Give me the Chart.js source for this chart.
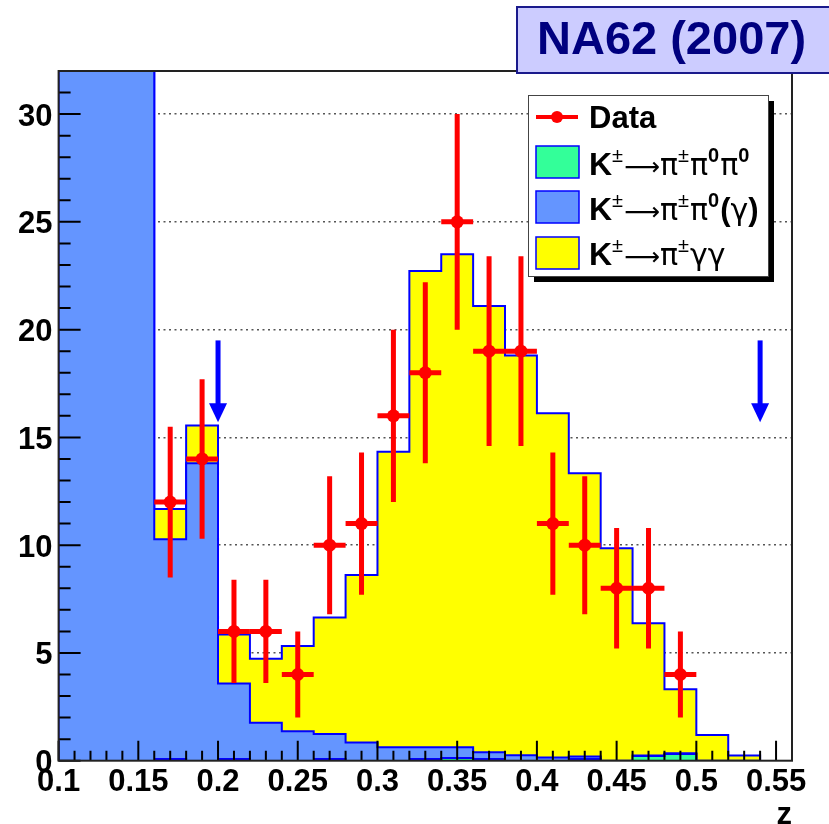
<!DOCTYPE html>
<html>
<head>
<meta charset="utf-8">
<script src="https://cdn.jsdelivr.net/npm/chart.js@4.4.1/dist/chart.umd.min.js"></script>
<style>
  body { margin: 0; background: #fff; }
  canvas { display: block; }
</style>
</head>
<body>
<canvas id="zplot" width="829" height="824"></canvas>
<script>
// histogram bins in z (low edges), width 0.02
const binLow = [0.10, 0.12, 0.14, 0.16, 0.18, 0.20, 0.22, 0.24, 0.26, 0.28, 0.30,
                0.32, 0.34, 0.36, 0.38, 0.40, 0.42, 0.44, 0.46, 0.48, 0.50, 0.52];
const binWidth = 0.02;

// MC components per bin (stacked: k3pi at the bottom, then k2pi, then kpigg)
const k3pi  = [0, 0, 0, 0.08, 0, 0.08, 0, 0, 0.08, 0, 0,
               0.08, 0.12, 0.08, 0, 0, 0.08, 0, 0.22, 0.31, 0, 0];
const k2pi  = [150, 150, 150, 10.2, 13.8, 3.5, 1.76, 1.37, 1.16, 0.85, 0.62,
               0.54, 0.5, 0.31, 0.25, 0.15, 0.12, 0, 0.02, 0.03, 0, 0];
const kpigg = [0, 0, 0, 1.4, 1.75, 2.27, 2.97, 3.95, 5.4, 7.77, 13.72,
               22.1, 22.88, 20.71, 18.55, 15.97, 13.14, 9.86, 6.14, 2.97, 1.19, 0.24];

// data points (bin centres), counts and errors
const dataZ   = [0.17, 0.19, 0.21, 0.23, 0.25, 0.27, 0.29, 0.31, 0.33, 0.35, 0.37,
                 0.39, 0.41, 0.43, 0.45, 0.47, 0.49];
const dataN   = [12, 14, 6, 6, 4, 10, 11, 16, 18, 25, 19, 19, 11, 10, 8, 8, 4];
const dataErr = [3.5, 3.7, 2.4, 2.4, 2.0, 3.2, 3.3, 4.0, 4.2, 5.0, 4.4, 4.4, 3.3, 3.2, 2.8, 2.8, 2.0];

// axis tick labels
const xTickVals = [0.1, 0.15, 0.2, 0.25, 0.3, 0.35, 0.4, 0.45, 0.5, 0.55];
const yTickVals = [0, 5, 10, 15, 20, 25, 30];

// signal region cut arrows
const arrowZ = [0.20, 0.54];
const arrowTop = 19.5;
const arrowTip = 15.7;

// cumulative layers for the stack
const layer1 = k3pi.slice();
const layer2 = layer1.map((v, i) => v + k2pi[i]);
const layer3 = layer2.map((v, i) => v + kpigg[i]);

function stepPoints(vals) {
    let n = vals.length;
    let pts = [{x: binLow[0], y: 0}];
    for (let i = 0; i < n; i++) pts.push({x: binLow[i], y: vals[i]});
    let end = binLow[n - 1] + binWidth;
    pts.push({x: end, y: vals[n - 1]});
    pts.push({x: end, y: 0});
    return pts;
}

const BOLD = '"Liberation Sans", Arial, sans-serif';

function drawRich(ctx, x, base, parts) {
    for (const p of parts) {
        ctx.font = p.f;
        ctx.fillText(p.t, x, base - (p.up || 0));
        x += ctx.measureText(p.t).width + (p.gap || 0);
    }
}

const rootStyle = {
    id: 'rootStyle',
    afterDatasetsDraw(chart) {
        const {ctx, chartArea: a, scales: {x, y}} = chart;
        ctx.save();
        // arrows
        ctx.fillStyle = '#0000ff';
        ctx.strokeStyle = '#0000ff';
        arrowZ.forEach(z => {
            let px = x.getPixelForValue(z);
            let top = y.getPixelForValue(arrowTop);
            let tip = y.getPixelForValue(arrowTip);
            ctx.lineWidth = 5;
            ctx.beginPath();
            ctx.moveTo(px, top);
            ctx.lineTo(px, tip - 14);
            ctx.stroke();
            ctx.beginPath();
            ctx.moveTo(px - 9, tip - 19);
            ctx.lineTo(px + 9, tip - 19);
            ctx.lineTo(px, tip);
            ctx.closePath();
            ctx.fill();
        });
        // data error bars
        ctx.strokeStyle = '#ff0000';
        ctx.lineWidth = 5;
        dataZ.forEach((z, i) => {
            let px = x.getPixelForValue(z);
            let py = y.getPixelForValue(dataN[i]);
            ctx.beginPath();
            ctx.moveTo(x.getPixelForValue(z - binWidth / 2), py);
            ctx.lineTo(x.getPixelForValue(z + binWidth / 2), py);
            ctx.moveTo(px, y.getPixelForValue(dataN[i] + dataErr[i]));
            ctx.lineTo(px, y.getPixelForValue(dataN[i] - dataErr[i]));
            ctx.stroke();
        });
        // inward tick marks
        ctx.strokeStyle = '#000';
        ctx.lineWidth = 2;
        ctx.beginPath();
        for (let v = 0; v <= 32; v++) {
            let py = y.getPixelForValue(v);
            ctx.moveTo(a.left, py);
            ctx.lineTo(a.left + (v % 5 === 0 ? 22 : 12), py);
        }
        for (let i = 0; i <= 46; i++) {
            let px = x.getPixelForValue(0.1 + i * 0.01);
            ctx.moveTo(px, a.bottom);
            ctx.lineTo(px, a.bottom - (i % 5 === 0 ? 20 : 10));
        }
        ctx.stroke();
        // frame
        ctx.strokeStyle = '#222';
        ctx.strokeRect(a.left, a.top, a.right - a.left, a.bottom - a.top);
        ctx.restore();
    },
    afterDraw(chart) {
        const {ctx, chartArea: a} = chart;
        ctx.save();
        // axis title
        ctx.fillStyle = '#000';
        ctx.font = 'bold 31px ' + BOLD;
        ctx.textAlign = 'right';
        ctx.textBaseline = 'alphabetic';
        ctx.fillText('z', a.right, 824);
        ctx.textAlign = 'left';

        // legend box with shadow
        ctx.fillStyle = '#000';
        ctx.fillRect(534, 101, 240, 181);
        ctx.fillStyle = '#fff';
        ctx.fillRect(528, 95, 240, 181);
        ctx.strokeStyle = '#444';
        ctx.lineWidth = 1;
        ctx.strokeRect(528.5, 95.5, 240, 181);

        // Data entry
        ctx.strokeStyle = '#ff0000';
        ctx.lineWidth = 4;
        ctx.beginPath();
        ctx.moveTo(536, 117);
        ctx.lineTo(578, 117);
        ctx.stroke();
        ctx.fillStyle = '#ff0000';
        ctx.beginPath();
        ctx.arc(557, 117, 6, 0, Math.PI * 2);
        ctx.fill();
        ctx.fillStyle = '#000';
        ctx.font = 'bold 31px ' + BOLD;
        ctx.fillText('Data', 589, 128);

        // MC swatches
        const sw = [['#33ff99', 146], ['#6495ff', 191], ['#ffff00', 237]];
        sw.forEach(s => {
            ctx.fillStyle = s[0];
            ctx.fillRect(536, s[1], 43, 32);
            ctx.strokeStyle = '#0000ff';
            ctx.lineWidth = 1.5;
            ctx.strokeRect(536, s[1], 43, 32);
        });
        ctx.fillStyle = '#000';
        const K = {t: 'K', f: 'bold 32px ' + BOLD};
        const pm = {t: '\u00b1', f: '20px ' + BOLD, up: 13, gap: 1};
        const arr = {t: '\u27f6', f: '25px "DejaVu Sans"', gap: 0};
        const pi = {t: '\u03c0', f: '30px "DejaVu Sans"'};
        const gam = {t: '\u03b3', f: '30px "DejaVu Sans"'};
        const zero = {t: '0', f: 'bold 20px ' + BOLD, up: 13, gap: 1};
        const lp = {t: '(', f: 'bold 31px ' + BOLD};
        const rp = {t: ')', f: 'bold 31px ' + BOLD};
        drawRich(ctx, 589, 175, [K, pm, arr, pi, pm, pi, zero, pi, zero]);
        drawRich(ctx, 589, 220, [K, pm, arr, pi, pm, pi, zero, lp, gam, rp]);
        drawRich(ctx, 589, 265, [K, pm, arr, pi, pm, gam, gam]);

        // experiment label
        ctx.fillStyle = '#ccccff';
        ctx.fillRect(516, 6, 330, 68);
        ctx.strokeStyle = '#1a1a8c';
        ctx.lineWidth = 2;
        ctx.strokeRect(517, 7, 330, 66);
        ctx.fillStyle = '#00007f';
        ctx.font = 'bold 47px ' + BOLD;
        ctx.fillText('NA62 (2007)', 537, 54);
        ctx.restore();
    }
};

function histSet(label, vals, color) {
    return {
        label: label,
        data: stepPoints(vals),
        stepped: 'before',
        borderColor: '#0000ff',
        borderWidth: 2,
        backgroundColor: color,
        fill: 'origin',
        pointRadius: 0
    };
}

const green = histSet('K3pi', layer1, '#33ff99');
green.segment = {
    borderColor: c => (c.p0.parsed.y <= 0 ? 'rgba(0,0,0,0)' : undefined)
};

let chart = new Chart(document.getElementById('zplot').getContext('2d'), {
    type: 'line',
    data: {
        datasets: [
            {
                label: 'Data',
                data: dataZ.map((z, i) => ({x: z, y: dataN[i]})),
                showLine: false,
                pointRadius: 6.5,
                pointBackgroundColor: '#ff0000',
                pointBorderColor: '#ff0000',
                pointBorderWidth: 0
            },
            green,
            histSet('K2pi', layer2, '#6495ff'),
            histSet('Kpigg', layer3, '#ffff00')
        ]
    },
    options: {
        responsive: false,
        animation: false,
        events: [],
        devicePixelRatio: 1,
        layout: {padding: {left: 0, right: 37, top: 71, bottom: 0}},
        plugins: {legend: {display: false}, tooltip: {enabled: false}},
        scales: {
            x: {
                type: 'linear',
                min: 0.1,
                max: 0.56,
                afterBuildTicks: s => { s.ticks = xTickVals.map(v => ({value: v})); },
                afterFit: s => { s.height = 824 - 760.7; },
                ticks: {
                    autoSkip: false,
                    maxRotation: 0,
                    padding: 3,
                    color: '#000',
                    font: {family: 'Liberation Sans', size: 31, weight: 'bold'},
                    callback: v => String(v)
                },
                grid: {display: false, drawTicks: false},
                border: {display: false}
            },
            y: {
                type: 'linear',
                min: 0,
                max: 32,
                afterBuildTicks: s => { s.ticks = yTickVals.map(v => ({value: v})); },
                afterFit: s => { s.width = 58.6; },
                ticks: {
                    padding: 6,
                    labelOffset: 3,
                    color: '#000',
                    font: {family: 'Liberation Sans', size: 31, weight: 'bold'}
                },
                grid: {
                    drawTicks: false,
                    lineWidth: 1.5,
                    color: c => (c.tick && c.tick.value > 0 ? '#555' : 'rgba(0,0,0,0)')
                },
                border: {display: false, dash: [2, 3.5]}
            }
        }
    },
    plugins: [rootStyle]
});
</script>
</body>
</html>
